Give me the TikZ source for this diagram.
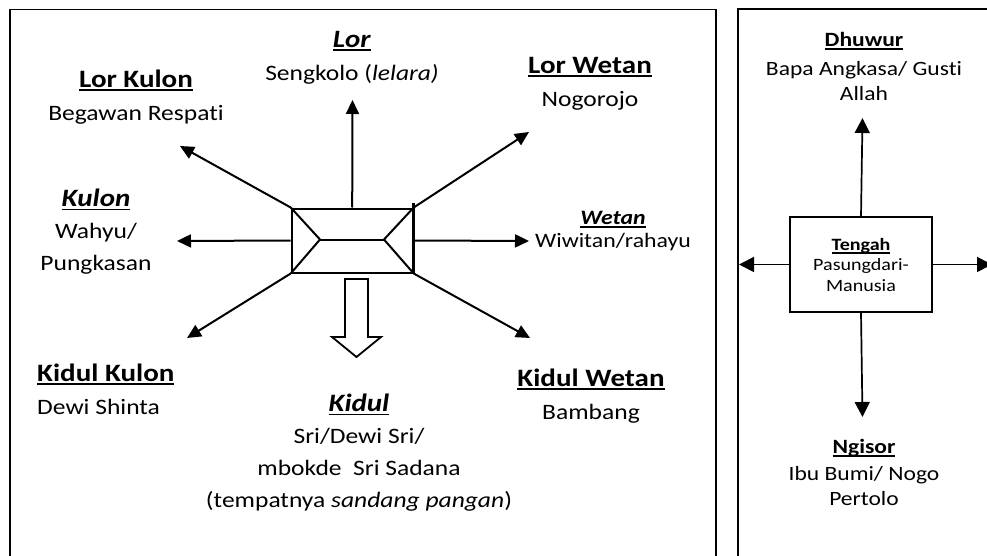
\documentclass[tikz,border=0pt]{standalone}
\usepackage{fontspec}
\setmainfont[FakeStretch=1.16, Ligatures=NoCommon]{Carlito}
\usetikzlibrary{arrows.meta}
\newcommand\ulhead[1]{\leavevmode\setbox0=\hbox{#1}\rlap{\rule[-3.5pt]{\wd0}{1.8pt}}\box0}
\newcommand\hd[1]{{\fontsize{25}{32}\selectfont\ulhead{\textbf{#1}}}}
\newcommand\hdsmall[1]{{\fontsize{20.5}{24}\selectfont\ulhead{\textbf{#1}}}}
\tikzset{
  arr/.style={line width=2pt, -{Triangle[length=14pt,width=13pt]}},
  lbl/.style={align=center, inner sep=0pt, font=\fontsize{22}{33}\selectfont},
  rlbl/.style={align=center, inner sep=0pt, font=\fontsize{20.3}{25}\selectfont},
}
\begin{document}
\begin{tikzpicture}[x=1pt, y=-1pt]
  \clip (0,0) rectangle (987,556);
  % frames
  \draw[line width=1.5pt] (10,9.5) rectangle (716,570);
  \draw[line width=1.5pt] (738,9) rectangle (1000,570);

  % centre of the left panel
  \node[draw, line width=2pt, minimum width=121pt, minimum height=64pt, inner sep=0pt] (hub) at (352.2,240.5) {};
  \coordinate (hubl) at (320,239.5);
  \coordinate (hubr) at (384,239.5);
  \draw[line width=2pt, line join=miter] (hub.north west) -- (hubl) -- (hub.south west);
  \draw[line width=2pt] (hubl) -- (hubr);
  \draw[line width=2pt] (hub.north east) -- (hubr) -- (hub.south east);
  \draw[line width=3pt] ([yshift=5pt]hub.north east) -- (hub.south east);

  \coordinate (tlor) at (352.5,100);
  \coordinate (tlorkulon) at (180,146);
  \coordinate (tkulon) at (177,241);
  \coordinate (tlorwetan) at (529,132);
  \coordinate (twetan) at (529,241);
  \coordinate (tkidulkulon) at (187,338);
  \coordinate (tkidulwetan) at (530,338);
  \draw[arr] (hub.north) -- (tlor);
  \draw[arr] (hub.north west) -- (tlorkulon);
  \draw[arr] (hub.west) -- (tkulon);
  \draw[arr] (hub.north east) -- (tlorwetan);
  \draw[arr] (hub.east) -- (twetan);
  \draw[arr] (hub.south west) -- (tkidulkulon);
  \draw[arr] (hub.south east) -- (tkidulwetan);
  % hollow arrow to Kidul
  \draw[line width=1.8pt, line join=miter, fill=white]
    (345,279) -- (368,279) -- (368,337) -- (381,337) -- (356.5,357) -- (332,337) -- (345,337) -- cycle;

  % labels
  \node[lbl] (lor) at (352,58) {\hd{\textit{Lor}}\\Sengkolo (\textit{lelara)}};
  \node[lbl] (lorkulon) at (136,97) {\hd{Lor Kulon}\\Begawan Respati};
  \node[lbl, font=\fontsize{22}{32}\selectfont] (kulon) at (96,232) {\hd{\textit{Kulon}}\\Wahyu/\\Pungkasan};
  \node[lbl] (lorwetan) at (590,84) {\hd{Lor Wetan}\\Nogorojo};
  \node[rlbl, font=\fontsize{20.5}{23}\selectfont] (wetan) at (613,231) {\hdsmall{\textit{Wetan}}\\Wiwitan/rahayu};
  \node[lbl, align=left, anchor=west] (kidulkulon) at (37,389) {\hd{Kidul Kulon}\\Dewi Shinta};
  \node[lbl, font=\fontsize{22}{32}\selectfont] (kidul) at (359,453) {\hd{\textit{Kidul}}\\Sri/Dewi Sri/\\mbokde~~Sri Sadana\\(tempatnya \textit{sandang pangan})};
  \node[lbl] (kidulwetan) at (591,396) {\hd{Kidul Wetan}\\Bambang};

  % right panel
  \node[draw, line width=1.5pt, minimum width=142pt, minimum height=95pt, inner sep=0pt,
        align=center, font=\fontsize{17.3}{20.5}\selectfont] (tengah) at (861,264.5)
        {{\ulhead{\textbf{Tengah}}}\\Pasungdari-\\Manusia};
  \coordinate (tdhuwur) at (862.5,118);
  \coordinate (tngisor) at (862.5,417);
  \coordinate (tkiri) at (739,264.5);
  \coordinate (tkanan) at (992,264.5);
  \tikzset{arr/.append style={line width=1.7pt, -{Triangle[length=15pt,width=15pt]}}}
  \draw[arr] (tengah.north) -- (tdhuwur);
  \draw[arr] (tengah.south) -- (tngisor);
  \draw[arr] (tengah.west) -- (tkiri);
  \draw[arr] (tengah.east) -- (tkanan);
  \node[rlbl] (dhuwur) at (864,66) {{\fontsize{20.3}{25}\selectfont\ulhead{\textbf{Dhuwur}}}\\[4pt]Bapa Angkasa/ Gusti\\Allah};
  \node[rlbl] (ngisor) at (864,472) {{\ulhead{\textbf{Ngisor}}}\\[2pt]Ibu Bumi/ Nogo\\Pertolo};
\end{tikzpicture}
\end{document}
